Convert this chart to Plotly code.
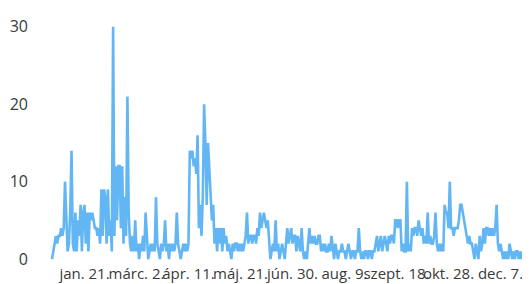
import pandas as pd
import plotly.graph_objects as go

start_date = "2018-12-27"
values = [
    0, 1, 2, 3, 2, 3, 3, 4, 3, 4,            # d0-9
    10, 6, 1, 2, 6, 14, 2, 1, 6, 1,          # d10-19
    5, 3, 7, 1, 6, 7, 2, 6, 1, 6,            # d20-29
    5, 6, 5, 4, 4, 3, 4, 2, 9, 3,            # d30-39
    9, 8, 2, 9, 3, 5, 1, 30, 3, 12,          # d40-49
    5, 12, 12, 4, 12, 2, 8, 3, 21, 6,        # d50-59
    2, 1, 3, 1, 5, 1, 2, 0, 2, 1,            # d60-69
    3, 1, 6, 2, 0, 1, 2, 1, 2, 1,            # d70-79
    8, 2, 1, 0, 2, 1, 2, 5, 1, 2,            # d80-89
    0, 2, 1, 2, 1, 2, 6, 2, 1, 0,            # d90-99
    1, 2, 1, 2, 1, 2, 14, 13, 14, 12,        # d100-109
    13, 11, 16, 4, 7, 3, 8, 20, 15, 7,       # d110-119
    15, 12, 9, 5, 7, 2, 4, 1, 4, 2,          # d120-129
    4, 1, 4, 2, 3, 1, 2, 1, 0, 2,            # d130-139
    1, 2, 2, 1, 2, 1, 2, 1, 2, 3,            # d140-149
    6, 2, 3, 3, 2, 3, 3, 2, 4, 3,            # d150-159
    6, 4, 5, 6, 5, 4, 5, 2, 0, 1,            # d160-169
    2, 1, 5, 1, 2, 0, 1, 2, 1, 0,            # d170-179
    2, 4, 2, 3, 4, 2, 3, 3, 1, 3,            # d180-189
    2, 1, 4, 1, 0, 1, 0, 2, 4, 2,            # d190-199
    3, 2, 3, 2, 2, 3, 3, 1, 2, 1,            # d200-209
    2, 1, 1, 2, 1, 3, 1, 0, 2, 1,            # d210-219
    0, 1, 1, 2, 1, 1, 0, 1, 2, 1,            # d220-229
    0, 1, 1, 0, 1, 1, 4, 1, 0, 1,            # d230-239
    0, 1, 1, 0, 1, 1, 0, 1, 1, 2,            # d240-249
    3, 1, 2, 3, 1, 2, 3, 2, 1, 3,            # d250-259
    2, 3, 3, 2, 5, 5, 4, 5, 5, 1,            # d260-269
    2, 1, 1, 10, 1, 2, 1, 4, 3, 4,           # d270-279
    4, 3, 5, 4, 3, 4, 2, 3, 2, 6,            # d280-289
    2, 3, 2, 2, 3, 6, 2, 1, 2, 1,            # d290-299
    2, 1, 7, 6, 6, 4, 10, 4, 4, 3,           # d300-309
    4, 4, 4, 5, 7, 7, 6, 5, 4, 3,            # d310-319
    2, 3, 2, 2, 1, 0, 2, 1, 0, 3,            # d320-329
    1, 2, 4, 2, 4, 4, 3, 4, 3, 4,            # d330-339
    3, 4, 7, 2, 1, 2, 1, 0, 1, 0,            # d340-349
    1, 0, 2, 1, 0, 1, 0, 1, 1, 0,            # d350-359
    1, 0, 1, 0, 2, 1,                        # d360-365
]

tick_dates = ["2019-01-21", "2019-03-02", "2019-04-11", "2019-05-21", "2019-06-30",
              "2019-08-09", "2019-09-18", "2019-10-28", "2019-12-07"]
tick_labels = ["jan. 21.", "márc. 2.", "ápr. 11.", "máj. 21.", "jún. 30.",
               "aug. 9.", "szept. 18.", "okt. 28.", "dec. 7."]
y_ticks = [0, 10, 20, 30]

dates = pd.date_range(start_date, periods=len(values), freq="D")

fig = go.Figure(go.Scatter(
    x=dates, y=values, mode="lines",
    line=dict(color="#62b6f4", width=2.6),
    hoverinfo="skip",
))

x0 = pd.Timestamp(start_date) - pd.Timedelta(days=17.7)
x1 = pd.Timestamp(start_date) + pd.Timedelta(days=367.7)

fig.update_layout(
    width=522, height=276,
    margin=dict(l=21, r=0, t=11, b=21, autoexpand=False),
    paper_bgcolor="white", plot_bgcolor="white",
    showlegend=False,
    font=dict(family="Open Sans", color="#3a3a3a", size=14),
    xaxis=dict(
        range=[x0, x1],
        tickvals=tick_dates, ticktext=tick_labels,
        tickangle=0, automargin=False,
        showgrid=False, zeroline=False, showline=False,
        tickfont=dict(size=15), ticks="",
    ),
    yaxis=dict(
        range=[-0.5, 31],
        tickvals=y_ticks, automargin=False,
        showgrid=False, zeroline=False, showline=False,
        tickfont=dict(size=16), ticks="",
    ),
)

fig.write_html("out.html")
